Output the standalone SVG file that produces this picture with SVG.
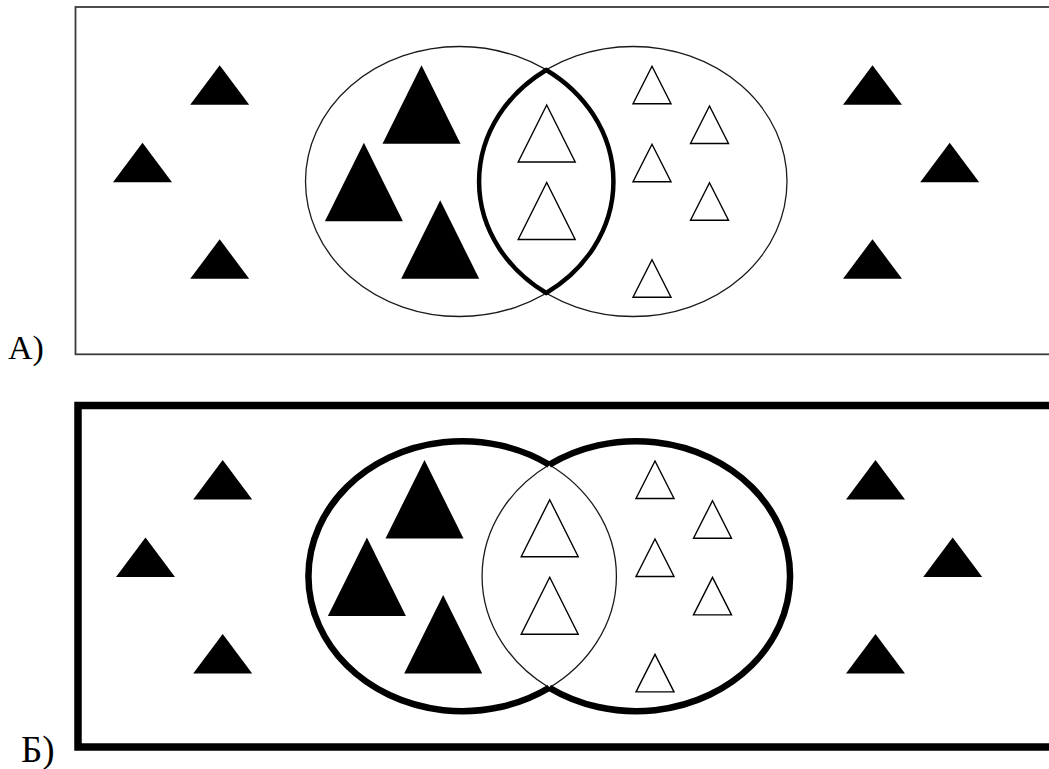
<svg xmlns="http://www.w3.org/2000/svg" xmlns:xlink="http://www.w3.org/1999/xlink" width="1049" height="769" viewBox="0 0 1049 769">
<style>
.bg{fill:#fff}
.thin{fill:none;stroke:#1a1a1a;stroke-width:1.3}
.lensA{fill:none;stroke:#000;stroke-width:4.5;stroke-linejoin:miter}
.outerB{fill:none;stroke:#000;stroke-width:6.5}
.frameA{fill:none;stroke:#3c3c3c;stroke-width:1.8}
.frameB{fill:none;stroke:#000;stroke-width:7.5}
.blk{fill:#000}
.wht{fill:#fff;stroke:#000;stroke-width:1.4;stroke-linejoin:miter}
.lbl{font-family:"Liberation Serif","Times New Roman",serif;fill:#000}
</style>
<defs>
<path id="sb" d="M0,0 L29.5,39.5 L-29.5,39.5 Z"/>
<path id="bb" d="M0,0 L39,78.5 L-39,78.5 Z"/>
<path id="lw" d="M0,1 L28.5,58 L-28.5,58 Z"/>
<path id="sw" d="M0,1 L19,38.5 L-19,38.5 Z"/>
<g id="tris">
<use href="#sb" class="blk" x="219.7" y="65.3"/>
<use href="#sb" class="blk" x="142.5" y="142.7"/>
<use href="#sb" class="blk" x="219.7" y="239.3"/>
<use href="#sb" class="blk" x="872.5" y="65.3"/>
<use href="#sb" class="blk" x="949.7" y="142.7"/>
<use href="#sb" class="blk" x="872.5" y="239.3"/>
<use href="#bb" class="blk" x="421.5" y="65.3"/>
<use href="#bb" class="blk" x="363.9" y="142.7"/>
<use href="#bb" class="blk" x="440.2" y="200.3"/>
<use href="#lw" class="wht" x="546.7" y="104"/>
<use href="#lw" class="wht" x="546.7" y="181.5"/>
<use href="#sw" class="wht" x="652" y="65.3"/>
<use href="#sw" class="wht" x="709.5" y="105"/>
<use href="#sw" class="wht" x="652" y="143.3"/>
<use href="#sw" class="wht" x="709.5" y="181.7"/>
<use href="#sw" class="wht" x="652" y="258.7"/>
</g>
</defs>
<rect class="bg" x="0" y="0" width="1049" height="769"/>

<g id="panelA">
<rect class="frameA" x="75.5" y="7" width="1000" height="347.3"/>
<ellipse class="thin" cx="459.5" cy="181.5" rx="154" ry="135"/>
<ellipse class="thin" cx="633" cy="181.5" rx="154" ry="135"/>
<path class="lensA" d="M546.25,70 A154,135 0 0 1 546.25,293 A154,135 0 0 1 546.25,70 Z"/>
<use href="#tris"/>
<text class="lbl" x="8" y="359" font-size="34">А)</text>
</g>

<g id="panelB">
<rect class="frameB" x="78" y="405.5" width="1000" height="341.5"/>
<g transform="translate(3,394.7)">
<path class="thin" d="M546.25,70 A154,135 0 0 1 546.25,293 A154,135 0 0 1 546.25,70 Z"/>
<path class="outerB" d="M546.25,70 A154,135 0 1 0 546.25,293"/>
<path class="outerB" d="M546.25,70 A154,135 0 1 1 546.25,293"/>
<use href="#tris"/>
</g>
<text class="lbl" x="21" y="762" font-size="37">Б)</text>
</g>
</svg>
